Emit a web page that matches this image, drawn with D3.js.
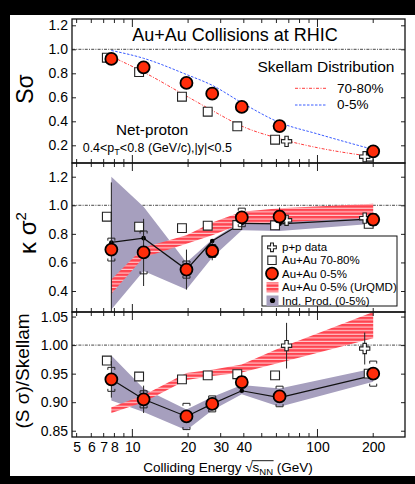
<!DOCTYPE html>
<html>
<head>
<meta charset="utf-8">
<script src="https://cdn.jsdelivr.net/npm/d3@7"></script>
<style>
  html, body { margin: 0; padding: 0; background: #000; }
  svg { display: block; }
  text { font-family: "Liberation Sans", Arial, Helvetica, sans-serif; fill: #000; }
</style>
</head>
<body>
<svg id="chart" width="415" height="484"></svg>
<script>
// ---- beam energies (GeV) ----
const energies = [7.7, 11.5, 19.6, 27, 39, 62.4, 200];
const ppEnergies = [62.4, 200];
const skellamEnergies = [7.7, 11.5, 19.6, 27, 39, 62.4, 100, 200];

// ---- S*sigma ----
const ssCentral = [0.92, 0.85, 0.72, 0.63, 0.52, 0.36, 0.15];
const ssPeripheral = [0.93, 0.81, 0.605, 0.48, 0.358, 0.247, 0.105];
const ssPP = [0.233, 0.105];
const skellamCentral = [0.99, 0.925, 0.79, 0.70, 0.555, 0.39, 0.295, 0.165];
const skellamPeripheral = [0.94, 0.81, 0.61, 0.49, 0.36, 0.255, 0.18, 0.105];

// ---- kappa*sigma^2 ----
const kCentral = [0.69, 0.67, 0.55, 0.68, 0.915, 0.92, 0.90];
const kCentralStat = [0.47, 0.235, 0.14, 0.065, 0.03, 0.065, 0.02];
const kCentralSys = [0.08, 0.15, 0.06, 0.045, 0.065, 0.04, 0.04];
const kPeripheral = [0.92, 0.85, 0.84, 0.857, 0.862, 0.86, 0.87];
const kPP = [0.895, 0.91];
const kIndProd = [0.74, 0.77, 0.55, 0.75, 0.874, 0.87, 0.905];
const kIndLow = [0.27, 0.54, 0.41, 0.635, 0.825, 0.82, 0.87];
const kIndHigh = [1.20, 0.99, 0.60, 0.76, 0.89, 0.885, 0.92];
const kUrqmdLow = [0.38, 0.635, 0.73, 0.79, 0.87, 0.88, 0.915];
const kUrqmdHigh = [0.48, 0.705, 0.79, 0.88, 0.955, 0.98, 1.01];

// ---- (S*sigma)/Skellam ----
const rCentral = [0.94, 0.905, 0.875, 0.897, 0.935, 0.91, 0.95];
const rCentralStat = [0.032, 0.024, 0.006, 0.006, 0.006, 0.006, 0.006];
const rCentralSys = [0.021, 0.015, 0.023, 0.014, 0.01, 0.018, 0.022];
const rPeripheral = [0.973, 0.945, 0.94, 0.947, 0.949, 0.947, 0.95];
const rPP = [0.999, 0.994];
const rPPStat = [0.04, 0.028];
const rIndProd = [0.94, 0.905, 0.875, 0.897, 0.92, 0.908, 0.947];
const rIndLow = [0.903, 0.883, 0.851, 0.886, 0.914, 0.892, 0.936];
const rIndHigh = [0.982, 0.924, 0.887, 0.909, 0.93, 0.924, 0.959];
const rUrqmdLow = [0.881, 0.90, 0.939, 0.946, 0.952, 0.969, 1.012];
const rUrqmdHigh = [0.891, 0.912, 0.951, 0.957, 0.966, 0.995, 1.058];

// ---- axis ticks ----
const xLabelTicks = [5, 6, 7, 8, 10, 20, 30, 40, 100, 200];
const xMinorTicks = [5, 6, 7, 8, 9, 20, 30, 40, 50, 60, 70, 80, 90, 200];
const xMajorTicks = [10, 100];
const topTicks = [0.2, 0.4, 0.6, 0.8, 1.0, 1.2];
const midTicks = [0.4, 0.6, 0.8, 1.0, 1.2];
const botTicks = [0.85, 0.90, 0.95, 1.00, 1.05];

// ---- drawing ----
const svg = d3.select("#chart");
svg.append("rect").attr("width", 415).attr("height", 484).attr("fill", "#000");
svg.append("rect").attr("x", 10).attr("y", 15).attr("width", 405).attr("height", 461).attr("fill", "#fff");

const X0 = 72, X1 = 405;
const x = d3.scaleLog().domain([4.72, 297]).range([X0, X1]);

const RED = "#ff2d0a";
const GRAY = "#a69fbe";
const SQ_SHIFT = -4.5;
const PP_SHIFT = [7, -8.5];

const defs = svg.append("defs");
const pat = defs.append("pattern").attr("id", "urqmdHatch")
  .attr("patternUnits", "userSpaceOnUse").attr("width", 8).attr("height", 3.6);
pat.append("rect").attr("width", 8).attr("height", 3.6).attr("fill", "#ff4450");
pat.append("rect").attr("y", 2.5).attr("width", 8).attr("height", 1.0).attr("fill", "#fff").attr("opacity", 0.8);

const panels = [
  { id: "top", y0: 19, y1: 163, y: d3.scaleLinear().domain([0.0525, 1.2525]).range([163, 19]), ticks: topTicks, fmt: d3.format(".1f") },
  { id: "mid", y0: 163, y1: 312, y: d3.scaleLinear().domain([0.253, 1.296]).range([312, 163]), ticks: midTicks, fmt: d3.format(".1f") },
  { id: "bot", y0: 312, y1: 437, y: d3.scaleLinear().domain([0.839, 1.058]).range([437, 312]), ticks: botTicks, fmt: d3.format(".2f") }
];

panels.forEach(p => {
  defs.append("clipPath").attr("id", "clip-" + p.id)
    .append("rect").attr("x", X0).attr("y", p.y0).attr("width", X1 - X0).attr("height", p.y1 - p.y0);
  p.g = svg.append("g").attr("clip-path", `url(#clip-${p.id})`);
  // reference line at unity
  p.g.append("line").attr("x1", X0).attr("x2", X1).attr("y1", p.y(1)).attr("y2", p.y(1))
    .attr("stroke", "#333").attr("stroke-width", 0.9).attr("stroke-dasharray", "3,1.2,1,1.2");
});

function band(p, lo, hi, fill) {
  const area = d3.area()
    .x((d, i) => x(energies[i]))
    .y0((d, i) => p.y(lo[i]))
    .y1((d, i) => p.y(hi[i]));
  p.g.append("path").datum(lo).attr("d", area).attr("fill", fill);
}

function indLine(p, vals) {
  const line = d3.line().x((d, i) => x(energies[i])).y(d => p.y(d));
  p.g.append("path").datum(vals).attr("d", line).attr("fill", "none").attr("stroke", "#111").attr("stroke-width", 1.2);
  p.g.selectAll(null).data(vals).join("circle")
    .attr("cx", (d, i) => x(energies[i])).attr("cy", d => p.y(d)).attr("r", 2.3).attr("fill", "#000");
}

function squares(p, vals) {
  p.g.selectAll(null).data(vals).join("path")
    .attr("d", d3.symbol().type(d3.symbolSquare).size(78))
    .attr("transform", (d, i) => `translate(${x(energies[i]) + SQ_SHIFT},${p.y(d)})`)
    .attr("fill", "#fff").attr("stroke", "#222").attr("stroke-width", 1.1);
}

function crosses(p, vals) {
  p.g.selectAll(null).data(vals).join("path")
    .attr("d", d3.symbol().type(d3.symbolCross).size(58))
    .attr("transform", (d, i) => `translate(${x(ppEnergies[i]) + PP_SHIFT[i]},${p.y(d)})`)
    .attr("fill", "#fff").attr("stroke", "#222").attr("stroke-width", 1.1);
}

function statBars(p, xs, vals, errs, shift) {
  p.g.selectAll(null).data(vals).join("line")
    .attr("x1", (d, i) => x(xs[i]) + (shift ? shift[i] : 0))
    .attr("x2", (d, i) => x(xs[i]) + (shift ? shift[i] : 0))
    .attr("y1", (d, i) => p.y(d + errs[i])).attr("y2", (d, i) => p.y(d - errs[i]))
    .attr("stroke", "#222").attr("stroke-width", 1);
}

function sysCaps(p, vals, errs) {
  const w = 3.5, leg = 2.5;
  vals.forEach((v, i) => {
    const cx = x(energies[i]);
    const yt = p.y(v + errs[i]), yb = p.y(v - errs[i]);
    p.g.append("path")
      .attr("d", `M${cx - w},${yt + leg}V${yt}H${cx + w}V${yt + leg}M${cx - w},${yb - leg}V${yb}H${cx + w}V${yb - leg}`)
      .attr("fill", "none").attr("stroke", "#222").attr("stroke-width", 1);
  });
}

function circles(p, vals) {
  p.g.selectAll(null).data(vals).join("circle")
    .attr("cx", (d, i) => x(energies[i])).attr("cy", d => p.y(d)).attr("r", 6)
    .attr("fill", RED).attr("stroke", "#000").attr("stroke-width", 1.8);
}

// top panel: S*sigma
const [pTop, pMid, pBot] = panels;
const skLine = d3.line().curve(d3.curveMonotoneX).x((d, i) => x(skellamEnergies[i])).y(d => pTop.y(d));
pTop.g.append("path").datum(skellamPeripheral).attr("d", skLine).attr("fill", "none")
  .attr("stroke", "#ff3b3b").attr("stroke-width", 1).attr("stroke-dasharray", "3,1.5,1,1.5");
pTop.g.append("path").datum(skellamCentral).attr("d", skLine).attr("fill", "none")
  .attr("stroke", "#3a5cff").attr("stroke-width", 1).attr("stroke-dasharray", "2.5,1.5");
squares(pTop, ssPeripheral);
crosses(pTop, ssPP);
circles(pTop, ssCentral);

// middle panel: kappa*sigma^2
band(pMid, kIndLow, kIndHigh, GRAY);
band(pMid, kUrqmdLow, kUrqmdHigh, "url(#urqmdHatch)");
indLine(pMid, kIndProd);
squares(pMid, kPeripheral);
crosses(pMid, kPP);
statBars(pMid, energies, kCentral, kCentralStat);
sysCaps(pMid, kCentral, kCentralSys);
circles(pMid, kCentral);

// bottom panel: ratio to Skellam
band(pBot, rIndLow, rIndHigh, GRAY);
band(pBot, rUrqmdLow, rUrqmdHigh, "url(#urqmdHatch)");
indLine(pBot, rIndProd);
squares(pBot, rPeripheral);
statBars(pBot, ppEnergies, rPP, rPPStat, PP_SHIFT);
crosses(pBot, rPP);
statBars(pBot, energies, rCentral, rCentralStat);
sysCaps(pBot, rCentral, rCentralSys);
circles(pBot, rCentral);

// axes and frames
panels.forEach((p, k) => {
  const yl = svg.append("g").attr("transform", `translate(${X0},0)`)
    .call(d3.axisLeft(p.y).tickValues(p.ticks).tickFormat(p.fmt).tickSize(-4).tickSizeOuter(0).tickPadding(4));
  yl.select(".domain").remove();
  yl.selectAll("line").attr("stroke", "#222");
  yl.selectAll("text").attr("font-size", 14).attr("font-family", "Liberation Sans, Arial, sans-serif").attr("fill", "#000");
  const yr = svg.append("g").attr("transform", `translate(${X1},0)`)
    .call(d3.axisRight(p.y).tickValues(p.ticks).tickFormat("").tickSize(-4).tickSizeOuter(0));
  yr.select(".domain").remove();
  yr.selectAll("line").attr("stroke", "#222");

  const tickG = svg.append("g").attr("stroke", "#222").attr("stroke-width", 1);
  [[xMinorTicks, 4], [xMajorTicks, 8]].forEach(([vals, len]) => {
    tickG.selectAll(null).data(vals).join("line")
      .attr("x1", d => x(d)).attr("x2", d => x(d)).attr("y1", p.y1).attr("y2", p.y1 - len);
    tickG.selectAll(null).data(vals).join("line")
      .attr("x1", d => x(d)).attr("x2", d => x(d)).attr("y1", p.y0).attr("y2", p.y0 + len);
  });

  svg.append("rect").attr("x", X0).attr("y", p.y0).attr("width", X1 - X0).attr("height", p.y1 - p.y0)
    .attr("fill", "none").attr("stroke", "#111").attr("stroke-width", 1.3);
});

// x tick labels
const xa = svg.append("g").attr("transform", `translate(0,${pBot.y1})`)
  .call(d3.axisBottom(x).tickValues(xLabelTicks).tickFormat(d3.format("d")).tickSize(0).tickPadding(5));
xa.select(".domain").remove();
xa.selectAll("text").attr("font-size", 14).attr("font-family", "Liberation Sans, Arial, sans-serif").attr("fill", "#000");

// x axis title
const xl = svg.append("text").attr("x", 228).attr("y", 471.5).attr("text-anchor", "middle").attr("font-size", 13.5);
xl.append("tspan").text("Colliding Energy \u221A");
xl.append("tspan").text("s");
xl.append("tspan").attr("font-size", 9.5).attr("dy", 3).text("NN");
xl.append("tspan").attr("dy", -3).text(" (GeV)");
{
  const n = xl.node();
  const b = n.getEndPositionOfChar(20).x;
  const r = n.getExtentOfChar(17);
  svg.append("line").attr("x1", r.x + r.width - 0.8).attr("x2", b + 0.5)
    .attr("y1", r.y + 1.2).attr("y2", r.y + 1.2).attr("stroke", "#000").attr("stroke-width", 0.9);
}

// y axis titles
svg.append("text").attr("transform", "translate(33,89) rotate(-90)").attr("text-anchor", "middle")
  .attr("font-size", 23).text("S\u03C3");
const kt = svg.append("text").attr("transform", "translate(36,233) rotate(-90)").attr("text-anchor", "middle")
  .attr("font-size", 24);
kt.append("tspan").text("\u03BA \u03C3");
kt.append("tspan").attr("font-size", 15).attr("dy", -10).text("2");
svg.append("text").attr("transform", "translate(29,371) rotate(-90)").attr("text-anchor", "middle")
  .attr("font-size", 19).text("(S \u03C3)/Skellam");

// top panel annotations
svg.append("text").attr("x", 235).attr("y", 40.5).attr("text-anchor", "middle").attr("font-size", 18)
  .text("Au+Au Collisions at RHIC");
svg.append("text").attr("x", 257.5).attr("y", 71.5).attr("font-size", 15.5).text("Skellam Distribution");
svg.append("line").attr("x1", 295).attr("x2", 327).attr("y1", 88.3).attr("y2", 88.3)
  .attr("stroke", "#ff3b3b").attr("stroke-width", 1).attr("stroke-dasharray", "3,1.5,1,1.5");
svg.append("line").attr("x1", 295).attr("x2", 327).attr("y1", 105).attr("y2", 105)
  .attr("stroke", "#3a5cff").attr("stroke-width", 1).attr("stroke-dasharray", "2.5,1.5");
svg.append("text").attr("x", 337).attr("y", 93.3).attr("font-size", 13.5).text("70-80%");
svg.append("text").attr("x", 337).attr("y", 109).attr("font-size", 13.5).text("0-5%");
svg.append("text").attr("x", 116).attr("y", 135).attr("font-size", 15.3).text("Net-proton");
const kin = svg.append("text").attr("x", 82.7).attr("y", 151.5).attr("font-size", 12.5);
kin.append("tspan").text("0.4<p");
kin.append("tspan").attr("font-size", 9).attr("dy", 3).text("T");
kin.append("tspan").attr("dy", -3).text("<0.8 (GeV/c),|y|<0.5");

// legend
const lg = svg.append("g");
lg.append("rect").attr("x", 262).attr("y", 236).attr("width", 135).attr("height", 70)
  .attr("fill", "#fff").attr("stroke", "#111").attr("stroke-width", 1);
const rows = [247.3, 260.3, 273.6, 287.3, 300.5];
const labels = ["p+p data", "Au+Au 70-80%", "Au+Au 0-5%", "Au+Au 0-5% (UrQMD)", "Ind. Prod. (0-5%)"];
lg.selectAll(null).data(labels).join("text")
  .attr("x", 282).attr("y", (d, i) => rows[i]).attr("dy", "0.36em").attr("font-size", 11.5).text(d => d);
lg.append("path").attr("d", d3.symbol().type(d3.symbolCross).size(42)).attr("transform", `translate(272,${rows[0]})`)
  .attr("fill", "#fff").attr("stroke", "#222").attr("stroke-width", 1.1);
lg.append("path").attr("d", d3.symbol().type(d3.symbolSquare).size(70)).attr("transform", `translate(272,${rows[1]})`)
  .attr("fill", "#fff").attr("stroke", "#222").attr("stroke-width", 1.1);
lg.append("circle").attr("cx", 272).attr("cy", rows[2]).attr("r", 6)
  .attr("fill", RED).attr("stroke", "#000").attr("stroke-width", 1.8);
lg.append("rect").attr("x", 266.5).attr("y", rows[3] - 5).attr("width", 12).attr("height", 10).attr("fill", "url(#urqmdHatch)");
lg.append("rect").attr("x", 266.5).attr("y", rows[4] - 5).attr("width", 12).attr("height", 10.5).attr("fill", GRAY);
lg.append("circle").attr("cx", 272.5).attr("cy", rows[4]).attr("r", 2.6).attr("fill", "#000");
</script>
</body>
</html>
